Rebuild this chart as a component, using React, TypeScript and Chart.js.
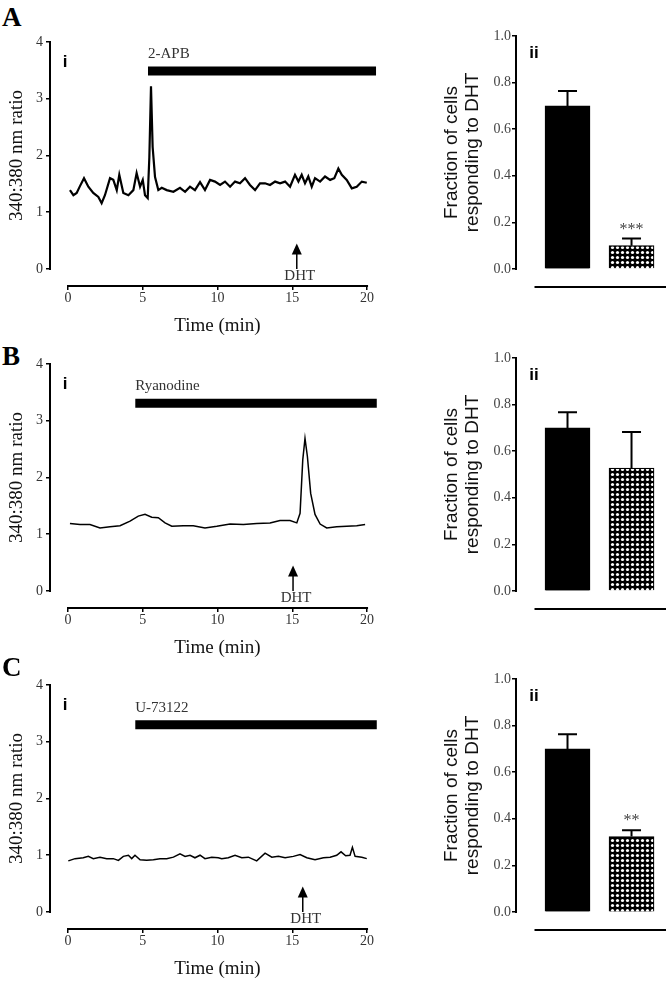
import React, { useEffect, useRef } from "react";
import { Chart, registerables } from "chart.js";

Chart.register(...registerables);

const SERIF = '"Liberation Serif", "Times New Roman", serif';
const SANS = '"Liberation Sans", Arial, sans-serif';

// ---------- Panel A (i): 2-APB trace ----------
const timeA = [0.13, 0.36, 0.58, 0.8, 1.07, 1.36, 1.69, 2.03, 2.25, 2.47, 2.81, 3.03, 3.26, 3.43, 3.7, 4.04, 4.37, 4.59, 4.82, 5.0, 5.15, 5.33, 5.44, 5.55, 5.66, 5.82, 6.04, 6.27, 6.6, 7.05, 7.49, 7.83, 8.16, 8.49, 8.83, 9.16, 9.5, 9.83, 10.17, 10.5, 10.84, 11.17, 11.5, 11.84, 12.17, 12.51, 12.84, 13.18, 13.51, 13.85, 14.18, 14.52, 14.85, 15.18, 15.41, 15.63, 15.85, 16.07, 16.3, 16.52, 16.86, 17.19, 17.53, 17.81, 18.08, 18.31, 18.64, 18.98, 19.31, 19.65, 19.98];
const ratioA = [1.39, 1.3, 1.34, 1.46, 1.6, 1.45, 1.34, 1.27, 1.16, 1.3, 1.6, 1.57, 1.39, 1.66, 1.34, 1.3, 1.39, 1.69, 1.45, 1.57, 1.3, 1.25, 1.97, 3.22, 2.15, 1.62, 1.39, 1.43, 1.39, 1.36, 1.43, 1.36, 1.45, 1.39, 1.53, 1.39, 1.57, 1.54, 1.48, 1.54, 1.45, 1.54, 1.51, 1.6, 1.48, 1.39, 1.51, 1.51, 1.48, 1.54, 1.51, 1.54, 1.45, 1.66, 1.54, 1.66, 1.51, 1.63, 1.45, 1.6, 1.54, 1.63, 1.57, 1.6, 1.77, 1.66, 1.57, 1.42, 1.45, 1.54, 1.52];

// ---------- Panel B (i): Ryanodine trace ----------
const timeB = [0.13, 0.8, 1.47, 2.14, 2.81, 3.48, 4.15, 4.7, 5.15, 5.6, 6.04, 6.49, 6.94, 7.71, 8.38, 9.16, 9.95, 10.84, 11.73, 12.62, 13.51, 14.18, 14.85, 15.3, 15.52, 15.7, 15.85, 16.01, 16.23, 16.52, 16.86, 17.3, 17.97, 18.64, 19.31, 19.87];
const ratioB = [1.19, 1.17, 1.17, 1.11, 1.13, 1.15, 1.23, 1.32, 1.35, 1.3, 1.29, 1.2, 1.14, 1.15, 1.15, 1.11, 1.14, 1.18, 1.17, 1.19, 1.2, 1.24, 1.24, 1.2, 1.37, 2.31, 2.69, 2.37, 1.72, 1.35, 1.18, 1.11, 1.13, 1.14, 1.15, 1.17];

// ---------- Panel C (i): U-73122 trace ----------
const timeC = [0.02, 0.47, 1.02, 1.36, 1.69, 2.14, 2.59, 3.03, 3.37, 3.7, 4.04, 4.26, 4.48, 4.82, 5.26, 5.71, 6.15, 6.6, 7.05, 7.49, 7.83, 8.16, 8.49, 8.83, 9.16, 9.61, 10.05, 10.28, 10.72, 11.17, 11.62, 12.06, 12.62, 13.18, 13.63, 14.07, 14.52, 15.07, 15.52, 15.97, 16.52, 17.08, 17.53, 17.97, 18.26, 18.57, 18.86, 19.02, 19.2, 19.65, 19.98];
const ratioC = [0.9, 0.94, 0.955, 0.98, 0.94, 0.966, 0.94, 0.94, 0.91, 0.98, 1.0, 0.94, 1.0, 0.92, 0.91, 0.92, 0.94, 0.94, 0.966, 1.025, 0.98, 1.0, 0.955, 1.0, 0.94, 0.966, 0.955, 0.94, 0.955, 1.0, 0.955, 0.966, 0.9, 1.036, 0.966, 0.98, 0.955, 0.98, 1.013, 0.955, 0.92, 0.955, 0.966, 1.0, 1.06, 0.99, 1.0, 1.14, 0.98, 0.966, 0.94];

const timeTicks = [0, 5, 10, 15, 20];
const ratioTicks = [0, 1, 2, 3, 4];
const fractionTicks = [0, 0.2, 0.4, 0.6, 0.8, 1.0];

// treatment bars and DHT addition
const treatmentNames = ["2-APB", "Ryanodine", "U-73122"];
const treatmentStart = [5.35, 4.5, 4.5];
const treatmentEnd = [20.6, 20.65, 20.65];
const treatmentLevel = [3.49, 3.31, 3.3];
const dhtTime = [15.3, 15.05, 15.7];

// ---------- Panels (ii): fraction of cells responding to DHT ----------
const groups = ["Control", "Inhibitor"];
const groupPos = [1, 2];
const fractionA = [0.7, 0.1];
const semA = [0.064, 0.031];
const fractionB = [0.7, 0.527];
const semB = [0.067, 0.155];
const fractionC = [0.7, 0.324];
const semC = [0.063, 0.027];
const significance = ["***", "", "**"];

const traces = [
  { t: timeA, v: ratioA },
  { t: timeB, v: ratioB },
  { t: timeC, v: ratioC },
];
const bars = [
  { f: fractionA, e: semA },
  { f: fractionB, e: semB },
  { f: fractionC, e: semC },
];

const rowTops = [0, 322, 643];
const letters = ["A", "B", "C"];
const letterCenters = [17, 356, 667];

const traceDecor = {
  id: "traceDecor",
  afterDatasetsDraw(chart: any, _a: any, o: any) {
    const { ctx, chartArea: ca } = chart;
    const x = chart.scales.x;
    const y = chart.scales.y;
    ctx.save();
    ctx.strokeStyle = "#000";
    ctx.lineWidth = 2;
    ctx.lineCap = "square";
    ctx.beginPath();
    ctx.moveTo(ca.left, y.getPixelForValue(0));
    ctx.lineTo(ca.left, y.getPixelForValue(o.yTop));
    ctx.stroke();
    ctx.beginPath();
    ctx.moveTo(x.getPixelForValue(o.xFrom), ca.bottom);
    ctx.lineTo(x.getPixelForValue(o.xTo), ca.bottom);
    ctx.stroke();

    // "i"
    ctx.fillStyle = "#000";
    ctx.font = `bold 17px ${SANS}`;
    ctx.textAlign = "center";
    ctx.textBaseline = "middle";
    ctx.fillText("i", ca.left + 15, y.getPixelForValue(3.65));

    // treatment label
    ctx.fillStyle = "#333";
    ctx.font = `15px ${SERIF}`;
    ctx.textAlign = "left";
    ctx.fillText(o.treatment, x.getPixelForValue(o.treatStart), y.getPixelForValue(o.treatLevel + 0.3));

    // DHT arrow
    const ax = x.getPixelForValue(o.dht);
    const tip = y.getPixelForValue(0.45);
    const base = y.getPixelForValue(0.0);
    ctx.strokeStyle = "#000";
    ctx.lineWidth = 1.5;
    ctx.lineCap = "butt";
    ctx.beginPath();
    ctx.moveTo(ax, base);
    ctx.lineTo(ax, tip + 8);
    ctx.stroke();
    ctx.fillStyle = "#000";
    ctx.beginPath();
    ctx.moveTo(ax, tip);
    ctx.lineTo(ax - 5, tip + 11);
    ctx.lineTo(ax + 5, tip + 11);
    ctx.closePath();
    ctx.fill();
    ctx.fillStyle = "#333";
    ctx.font = `15px ${SERIF}`;
    ctx.textAlign = "center";
    ctx.fillText("DHT", ax + 3, y.getPixelForValue(-0.13));

    // y title
    ctx.fillStyle = "#111";
    ctx.font = `19px ${SERIF}`;
    ctx.textAlign = "center";
    ctx.textBaseline = "middle";
    ctx.translate(o.titleX, (y.getPixelForValue(0) + y.getPixelForValue(o.yTop)) / 2);
    ctx.rotate(-Math.PI / 2);
    ctx.fillText(o.yTitle, 0, 0);
    ctx.restore();
  },
};

const barDecor = {
  id: "barDecor",
  afterDatasetsDraw(chart: any, _a: any, o: any) {
    const { ctx, chartArea: ca } = chart;
    const x = chart.scales.x;
    const y = chart.scales.y;
    const ds = chart.data.datasets[0];
    ctx.save();
    ctx.strokeStyle = "#000";
    ctx.lineWidth = 2;
    ctx.lineCap = "square";
    ctx.beginPath();
    ctx.moveTo(ca.left, y.getPixelForValue(0));
    ctx.lineTo(ca.left, y.getPixelForValue(1));
    ctx.stroke();
    ctx.beginPath();
    ctx.moveTo(x.getPixelForValue(o.baseFrom), ca.bottom);
    ctx.lineTo(ca.right, ca.bottom);
    ctx.stroke();

    ctx.lineCap = "butt";
    o.errors.forEach((e: number, i: number) => {
      const pt = ds.data[i];
      const px = x.getPixelForValue(pt.x);
      const top = y.getPixelForValue(pt.y + e);
      ctx.beginPath();
      ctx.moveTo(px, y.getPixelForValue(pt.y));
      ctx.lineTo(px, top);
      ctx.moveTo(px - 9.5, top);
      ctx.lineTo(px + 9.5, top);
      ctx.stroke();
      if (i === 1 && o.sig) {
        ctx.fillStyle = "#444";
        ctx.font = `16px ${SERIF}`;
        ctx.textAlign = "center";
        ctx.textBaseline = "middle";
        ctx.fillText(o.sig, px, top - 9);
      }
    });

    ctx.fillStyle = "#000";
    ctx.font = `bold 17px ${SANS}`;
    ctx.textAlign = "center";
    ctx.textBaseline = "middle";
    ctx.fillText("ii", ca.left + 18, y.getPixelForValue(0.925));

    ctx.fillStyle = "#111";
    ctx.font = `19px ${SANS}`;
    ctx.translate(0, (y.getPixelForValue(0) + y.getPixelForValue(1)) / 2);
    ctx.rotate(-Math.PI / 2);
    ctx.fillText(o.title[0], 0, o.titleX[0]);
    ctx.fillText(o.title[1], 0, o.titleX[1]);
    ctx.restore();
  },
};

function TraceChart({ idx }: { idx: number }) {
  const ref = useRef<HTMLCanvasElement>(null);
  useEffect(() => {
    const tr = traces[idx];
    const chart = new Chart(ref.current as HTMLCanvasElement, {
      type: "line",
      data: {
        datasets: [
          {
            data: tr.t.map((t, i) => ({ x: t, y: tr.v[i] })),
            borderColor: "#000",
            borderWidth: idx === 0 ? 2.2 : 1.5,
            pointRadius: 0,
            tension: 0,
          },
          {
            data: [
              { x: treatmentStart[idx], y: treatmentLevel[idx] },
              { x: treatmentEnd[idx], y: treatmentLevel[idx] },
            ],
            borderColor: "#000",
            borderWidth: 9,
            borderCapStyle: "butt",
            pointRadius: 0,
          },
        ],
      },
      options: {
        animation: false,
        responsive: false,
        events: [],
        layout: { padding: { top: 22, left: 0, right: 10, bottom: 0 } },
        plugins: {
          legend: { display: false },
          tooltip: { enabled: false },
          traceDecor: {
            yTop: 4,
            xFrom: 0,
            xTo: 20,
            titleX: 17,
            yTitle: "340:380 nm ratio",
            treatment: treatmentNames[idx],
            treatStart: treatmentStart[idx],
            treatLevel: treatmentLevel[idx],
            dht: dhtTime[idx],
          },
        } as any,
        scales: {
          x: {
            type: "linear",
            min: -1.204,
            max: 21.2,
            afterBuildTicks: (s: any) => {
              s.ticks = timeTicks.map((v) => ({ value: v }));
            },
            ticks: { font: { family: SERIF, size: 14 }, color: "#333", padding: 0, maxRotation: 0, autoSkip: false },
            grid: { display: true, drawOnChartArea: false, drawTicks: true, tickLength: 4, color: "#000", lineWidth: 1.5 },
            border: { display: false },
            title: { display: true, text: "Time (min)", font: { family: SERIF, size: 19 }, color: "#111", padding: { top: 0, bottom: 4 } },
            afterFit: (s: any) => {
              s.height = 55;
            },
          },
          y: {
            type: "linear",
            min: -0.3,
            max: 4,
            afterBuildTicks: (s: any) => {
              s.ticks = ratioTicks.map((v) => ({ value: v }));
            },
            ticks: { font: { family: SERIF, size: 14 }, color: "#333", padding: 3 },
            grid: { display: true, drawOnChartArea: false, drawTicks: true, tickLength: 4, color: "#000", lineWidth: 1.5 },
            border: { display: false },
            afterFit: (s: any) => {
              s.width = 50;
            },
          },
        } as any,
      },
      plugins: [traceDecor as any],
    });
    return () => chart.destroy();
  }, [idx]);
  return (
    <canvas
      ref={ref}
      width={395}
      height={321}
      style={{ position: "absolute", left: 0, top: rowTops[idx] + 20, display: "block" }}
    />
  );
}

function makeChecker(ctx: CanvasRenderingContext2D) {
  const c = document.createElement("canvas");
  c.width = 5;
  c.height = 5;
  const g = c.getContext("2d") as CanvasRenderingContext2D;
  g.fillStyle = "#000";
  g.fillRect(0, 0, 5, 5);
  g.fillStyle = "#fff";
  g.beginPath();
  g.arc(2.5, 2.5, 1.6, 0, Math.PI * 2);
  g.fill();
  return ctx.createPattern(c, "repeat");
}

function BarChart({ idx }: { idx: number }) {
  const ref = useRef<HTMLCanvasElement>(null);
  useEffect(() => {
    const canvas = ref.current as HTMLCanvasElement;
    const pattern = makeChecker(canvas.getContext("2d") as CanvasRenderingContext2D);
    const b = bars[idx];
    const chart = new Chart(canvas, {
      type: "bar",
      data: {
        datasets: [
          {
            label: "Fraction responding",
            data: b.f.map((v, i) => ({ x: groupPos[i], y: v })) as any,
            backgroundColor: ["#000", pattern as any],
            borderColor: "#000",
            borderWidth: 1.2,
            barThickness: 45,
          },
        ],
      },
      options: {
        animation: false,
        responsive: false,
        events: [],
        layout: { padding: { top: 16, left: 0, right: 5, bottom: 0 } },
        plugins: {
          legend: { display: false },
          tooltip: { enabled: false },
          barDecor: {
            errors: b.e,
            sig: significance[idx],
            baseFrom: 0.5,
            title: ["Fraction of cells", "responding to DHT"],
            titleX: [52, 73],
          },
        } as any,
        scales: {
          x: {
            type: "linear",
            offset: false,
            bounds: "data",
            min: 0.1953,
            max: 2.523,
            afterDataLimits: (s: any) => {
              s.min = 0.1953;
              s.max = 2.523;
            },
            afterBuildTicks: (s: any) => {
              s.ticks = groupPos.map((v) => ({ value: v }));
            },
            grid: { display: false, offset: false },
            border: { display: false },
            ticks: { display: false },
            afterFit: (s: any) => {
              s.height = 54;
            },
          },
          y: {
            type: "linear",
            min: -0.0773,
            max: 1.0,
            afterBuildTicks: (s: any) => {
              s.ticks = fractionTicks.map((v) => ({ value: v }));
            },
            ticks: {
              font: { family: SERIF, size: 14 },
              color: "#444",
              padding: 1,
              callback: (v: any) => Number(v).toFixed(1),
            },
            grid: { display: true, drawOnChartArea: false, drawTicks: true, tickLength: 4, color: "#000", lineWidth: 1.5 },
            border: { display: false },
            afterFit: (s: any) => {
              s.width = 116;
            },
          },
        } as any,
      },
      plugins: [barDecor as any],
    });
    return () => chart.destroy();
  }, [idx]);
  return (
    <canvas
      ref={ref}
      width={270}
      height={321}
      style={{ position: "absolute", left: 400, top: rowTops[idx] + 20, display: "block" }}
    />
  );
}

export default function App() {
  useEffect(() => {
    document.body.style.margin = "0";
  }, []);
  return (
    <div style={{ position: "relative", width: 670, height: 984, background: "#fff", overflow: "hidden" }}>
      {[0, 1, 2].map((i) => (
        <React.Fragment key={i}>
          <div
            style={{
              position: "absolute",
              left: 2,
              top: letterCenters[i] - 15,
              height: 30,
              lineHeight: "30px",
              fontFamily: SERIF,
              fontWeight: "bold",
              fontSize: 27,
              color: "#000",
            }}
          >
            {letters[i]}
          </div>
          <TraceChart idx={i} />
          <BarChart idx={i} />
        </React.Fragment>
      ))}
    </div>
  );
}
